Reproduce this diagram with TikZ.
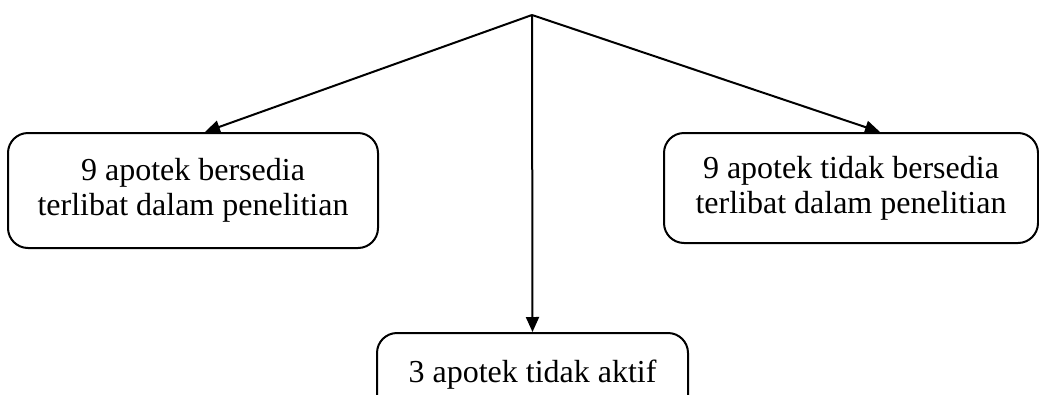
\documentclass[tikz,border=0pt]{standalone}
\usepackage{fontspec}
\setmainfont{Liberation Serif}
\usetikzlibrary{arrows.meta, positioning}
\tikzstyle{choice} = [
  rectangle,
  rounded corners=20pt,
  draw=black,
  line width=2pt,
  align=center,
  inner sep=0,
  font=\fontsize{32}{35}\selectfont
]
\tikzstyle{arrow} = [
  line width=2pt,
  -{Triangle[length=15pt,width=13pt]}
]
\begin{document}
\begin{tikzpicture}[x=1pt,y=-1pt]
      \useasboundingbox (0,0) rectangle (1039,394);
      \coordinate (split) at (532,15);
      \node [choice, minimum width=370pt, minimum height=115pt] (willing) at (193,190.5) {9 apotek bersedia\\terlibat dalam penelitian};
      \node [choice, minimum width=374pt, minimum height=110pt] (unwilling) at (851,188) {9 apotek tidak bersedia\\terlibat dalam penelitian};
      \node [choice, minimum width=311pt, minimum height=83pt] (inactive) at (532.5,374.5) {3 apotek tidak aktif};

      \draw [arrow] (split) -- ([xshift=12pt]willing.north);
      \draw [arrow] (split) -- ([xshift=29pt]unwilling.north);
      \draw [arrow] (split) -- (inactive.north);

    \end{tikzpicture}
\end{document}
